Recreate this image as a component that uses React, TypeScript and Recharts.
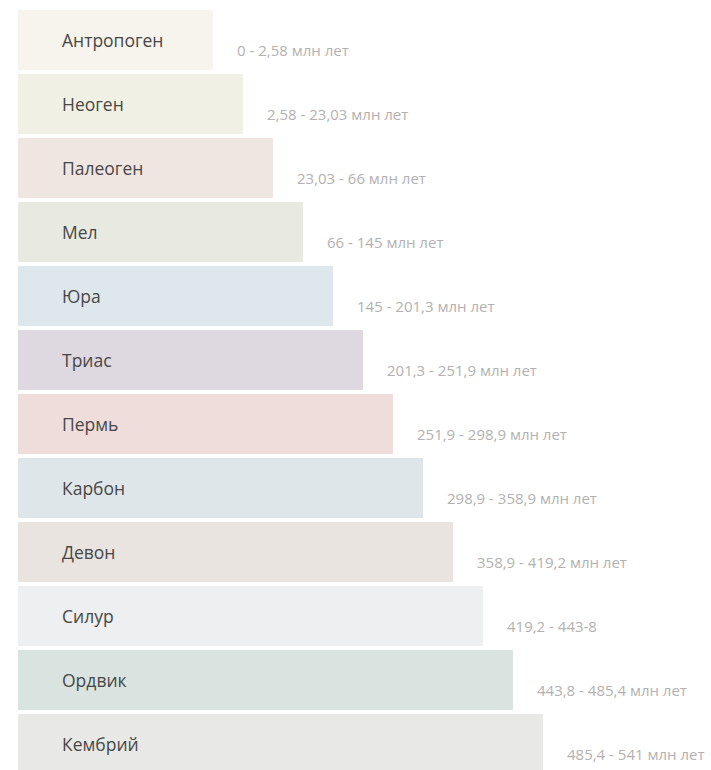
import React from 'react';
import { BarChart, Bar, XAxis, YAxis, Cell, LabelList } from 'recharts';

// Geological periods, youngest first
const periods = [
  'Антропоген',
  'Неоген',
  'Палеоген',
  'Мел',
  'Юра',
  'Триас',
  'Пермь',
  'Карбон',
  'Девон',
  'Силур',
  'Ордвик',
  'Кембрий',
];

const ranges = [
  '0 - 2,58 млн лет',
  '2,58 - 23,03 млн лет',
  '23,03 - 66 млн лет',
  '66 - 145 млн лет',
  '145 - 201,3 млн лет',
  '201,3 - 251,9 млн лет',
  '251,9 - 298,9 млн лет',
  '298,9 - 358,9 млн лет',
  '358,9 - 419,2 млн лет',
  '419,2 - 443-8',
  '443,8 - 485,4 млн лет',
  '485,4 - 541 млн лет',
];

// visual step length of each bar (the bars are a staircase, not to scale)
const stepLength = [6.5, 7.5, 8.5, 9.5, 10.5, 11.5, 12.5, 13.5, 14.5, 15.5, 16.5, 17.5];

const colors = [
  '#f6f4ec',
  '#f1f0e4',
  '#f0e6e1',
  '#e8eae1',
  '#dee8ec',
  '#ded8e0',
  '#eedddb',
  '#dfe6e9',
  '#e9e4df',
  '#eeeff1',
  '#d9e4e1',
  '#e8e9e6',
];

const data = periods.map((name, i) => ({
  name,
  range: ranges[i],
  length: stepLength[i],
}));

const FONT = '"Open Sans", "DejaVu Sans", sans-serif';

function NameLabel(props: any) {
  const { x, y, height, value } = props;
  return (
    <text
      x={Number(x) + 44}
      y={Number(y) + Number(height) / 2}
      dominantBaseline="central"
      fill="#474747"
      fontSize={17.5}
      fontFamily={FONT}
    >
      {value}
    </text>
  );
}

function RangeLabel(props: any) {
  const { x, y, width, height, value } = props;
  return (
    <text
      x={Number(x) + Number(width) + 24}
      y={Number(y) + Number(height) / 2 + 10}
      dominantBaseline="central"
      fill="#b3b1b1"
      fontSize={15}
      fontFamily={FONT}
    >
      {value}
    </text>
  );
}

export default function App() {
  return (
    <div
      style={{
        position: 'fixed',
        top: 0,
        left: 0,
        width: 711,
        height: 770,
        overflow: 'hidden',
        background: '#ffffff',
      }}
    >
      <BarChart
        width={711}
        height={776}
        data={data}
        layout="vertical"
        margin={{ top: 8, right: 33, bottom: 0, left: 18 }}
        barCategoryGap={4}
      >
        <XAxis type="number" domain={[0, 22]} hide />
        <YAxis type="category" dataKey="name" hide />
        <Bar dataKey="length" barSize={60} isAnimationActive={false}>
          {data.map((d, i) => (
            <Cell key={d.name} fill={colors[i]} />
          ))}
          <LabelList dataKey="name" content={<NameLabel />} />
          <LabelList dataKey="range" content={<RangeLabel />} />
        </Bar>
      </BarChart>
    </div>
  );
}
